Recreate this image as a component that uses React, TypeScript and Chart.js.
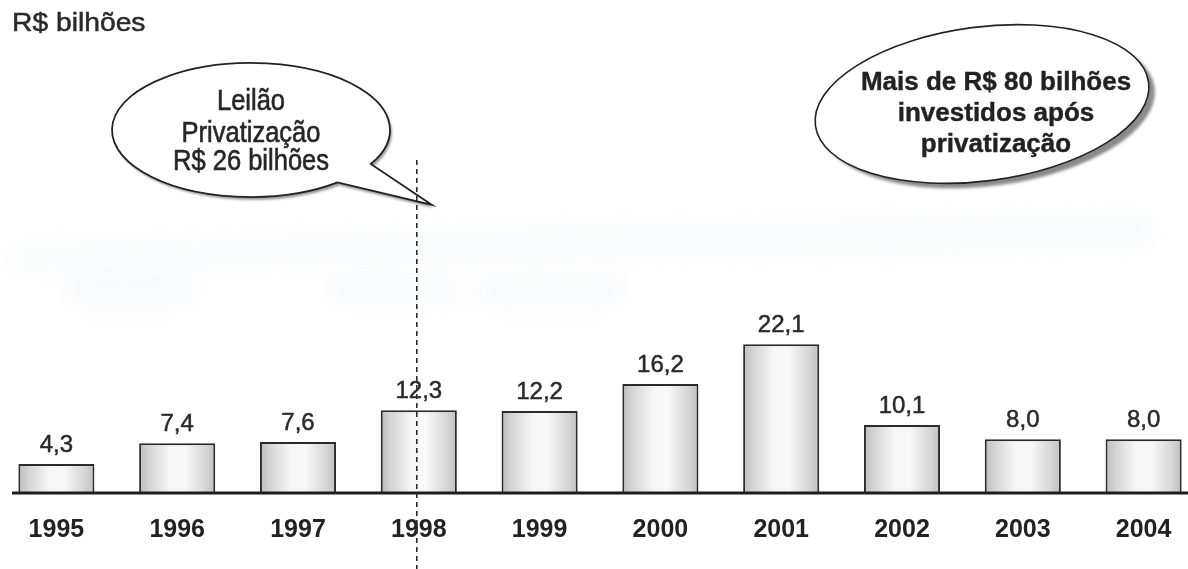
import React, { useEffect, useRef } from "react";
import { Chart, registerables } from "chart.js";

Chart.register(...registerables);

const years = ["1995", "1996", "1997", "1998", "1999", "2000", "2001", "2002", "2003", "2004"];
const investments = [4.3, 7.4, 7.6, 12.3, 12.2, 16.2, 22.1, 10.1, 8.0, 8.0];
const unitTitle = "R$ bilhões";
const auctionNote = ["Leilão", "Privatização", "R$ 26 bilhões"];
const investNote = ["Mais de R$ 80 bilhões", "investidos após", "privatização"];
const auctionYearIndex = 3;

const FONT = '"Liberation Sans", Arial, sans-serif';
const OFFSET = 4; // canvas is shifted 4px left of the page
const BAR_FRACTION = 0.63;

function fmt(v: number) {
  return v.toFixed(1).replace(".", ",");
}

function drawText(
  ctx: CanvasRenderingContext2D,
  text: string,
  x: number,
  y: number,
  font: string,
  sx = 1,
  color = "#262626",
  align: CanvasTextAlign = "center",
  stroke = 0.6
) {
  ctx.save();
  ctx.translate(x, y);
  ctx.scale(sx, 1);
  ctx.font = font;
  ctx.fillStyle = color;
  ctx.strokeStyle = color;
  ctx.lineWidth = stroke;
  ctx.textAlign = align;
  ctx.textBaseline = "alphabetic";
  ctx.fillText(text, 0, 0);
  if (stroke > 0) ctx.strokeText(text, 0, 0);
  ctx.restore();
}

const decorPlugin = {
  id: "decor",
  beforeDatasetsDraw(chart: any) {
    const ctx: CanvasRenderingContext2D = chart.ctx;
    ctx.save();
    ctx.translate(OFFSET, 0);

    // faint scan smudges
    ctx.save();
    ctx.filter = "blur(12px)";
    ctx.fillStyle = "rgba(212,217,230,0.3)";
    ctx.beginPath();
    ctx.moveTo(10, 254);
    ctx.lineTo(500, 238);
    ctx.lineTo(1150, 222);
    ctx.lineTo(1150, 238);
    ctx.lineTo(500, 252);
    ctx.lineTo(10, 264);
    ctx.closePath();
    ctx.fill();
    ctx.fillStyle = "rgba(220,224,235,0.28)";
    ctx.fillRect(70, 276, 120, 24);
    ctx.fillRect(330, 280, 130, 18);
    ctx.fillRect(480, 280, 140, 20);
    ctx.restore();

    // title
    drawText(ctx, unitTitle, 12, 31, `25px ${FONT}`, 1.13, "#2a2a2a", "left", 0.5);

    // left speech bubble
    const lcx = 251, lcy = 130, lrx = 139, lry = 67;
    const a1 = (51.5 * Math.PI) / 180;
    const a2 = (30.5 * Math.PI) / 180 + Math.PI * 2;
    const bubblePath = () => {
      ctx.beginPath();
      ctx.ellipse(lcx, lcy, lrx, lry, 0, a1, a2, false);
      ctx.lineTo(432, 205);
      ctx.closePath();
    };
    ctx.save();
    ctx.translate(2, 3);
    bubblePath();
    ctx.fillStyle = "#9a9a9a";
    ctx.filter = "blur(1px)";
    ctx.fill();
    ctx.restore();
    bubblePath();
    ctx.fillStyle = "#ffffff";
    ctx.fill();
    ctx.lineWidth = 1.8;
    ctx.strokeStyle = "#222";
    ctx.stroke();
    const lBase = [110, 142, 170];
    auctionNote.forEach((t, i) => drawText(ctx, t, 251, lBase[i], `29px ${FONT}`, 0.88));

    // right bubble (slightly tilted ellipse)
    const rcx = 982, rcy = 104, rrx = 168, rry = 77, rot = (-7.4 * Math.PI) / 180;
    ctx.save();
    ctx.beginPath();
    ctx.ellipse(rcx + 6, rcy + 5, rrx, rry, rot, 0, Math.PI * 2);
    ctx.fillStyle = "#8a8a8a";
    ctx.filter = "blur(1.5px)";
    ctx.fill();
    ctx.restore();
    ctx.beginPath();
    ctx.ellipse(rcx, rcy, rrx, rry, rot, 0, Math.PI * 2);
    ctx.fillStyle = "#ffffff";
    ctx.fill();
    ctx.lineWidth = 1.6;
    ctx.strokeStyle = "#222";
    ctx.stroke();
    const rBase = [90, 121, 152];
    investNote.forEach((t, i) => drawText(ctx, t, 996, rBase[i], `bold 26px ${FONT}`, 1, "#222", "center", 0.4));

    ctx.restore();
  },
  afterDatasetsDraw(chart: any) {
    const ctx: CanvasRenderingContext2D = chart.ctx;
    const area = chart.chartArea;
    const xs = chart.scales.x;
    const ys = chart.scales.y;

    // value labels
    investments.forEach((v, i) => {
      const x = xs.getPixelForValue(i);
      const y = ys.getPixelForValue(v);
      drawText(ctx, fmt(v), x, y - 12, `24px ${FONT}`, 1, "#2a2a2a", "center", 0.5);
    });

    // axis line
    ctx.save();
    ctx.strokeStyle = "#1e1e1e";
    ctx.lineWidth = 3;
    ctx.beginPath();
    ctx.moveTo(12 + OFFSET, area.bottom);
    ctx.lineTo(chart.width, area.bottom);
    ctx.stroke();
    ctx.restore();

    // dashed privatization marker
    ctx.save();
    const dx = xs.getPixelForValue(auctionYearIndex) - 2;
    ctx.strokeStyle = "#2a2a2a";
    ctx.lineWidth = 1.6;
    ctx.setLineDash([5, 4]);
    ctx.beginPath();
    ctx.moveTo(dx, 160);
    ctx.lineTo(dx, chart.height);
    ctx.stroke();
    ctx.restore();
  },
};

export default function App() {
  const ref = useRef<HTMLCanvasElement | null>(null);

  useEffect(() => {
    if (!ref.current) return;
    const chart = new Chart(ref.current, {
      type: "bar",
      data: {
        labels: years,
        datasets: [
          {
            data: investments,
            backgroundColor: (c: any) => {
              const ch = c.chart;
              const xs = ch.scales && ch.scales.x;
              if (!xs || !ch.chartArea) return "#e0e0e0";
              const cx = xs.getPixelForValue(c.dataIndex);
              const w = (xs.width / years.length) * BAR_FRACTION;
              const g = ch.ctx.createLinearGradient(cx - w / 2, 0, cx + w / 2, 0);
              g.addColorStop(0, "#bcbcbc");
              g.addColorStop(0.12, "#d2d2d2");
              g.addColorStop(0.4, "#f6f6f6");
              g.addColorStop(0.6, "#f8f8f8");
              g.addColorStop(0.88, "#d4d4d4");
              g.addColorStop(1, "#c0c0c0");
              return g;
            },
            borderColor: "#2b2b2b",
            borderWidth: 2,
            borderSkipped: "bottom",
            barPercentage: BAR_FRACTION,
            categoryPercentage: 1,
          },
        ],
      },
      options: {
        responsive: false,
        animation: false,
        layout: { padding: { left: 0, right: 0, top: 0, bottom: 2 } },
        plugins: { legend: { display: false }, tooltip: { enabled: false } },
        scales: {
          x: {
            grid: { display: false, drawTicks: false },
            border: { display: false },
            ticks: {
              padding: 22,
              color: "#222",
              font: { family: FONT, size: 25, weight: "bold" },
              maxRotation: 0,
            },
          },
          y: {
            display: false,
            min: 0,
            max: 73.3,
          },
        },
      },
      plugins: [decorPlugin],
    });
    return () => chart.destroy();
  }, []);

  return (
    <div style={{ position: "fixed", left: 0, top: 0, width: 1188, height: 569, overflow: "hidden", background: "#fff" }}>
      <div style={{ position: "absolute", left: -OFFSET, top: 0, width: 1208, height: 569 }}>
        <canvas ref={ref} width={1208} height={569} style={{ display: "block", width: 1208, height: 569 }} />
      </div>
    </div>
  );
}
